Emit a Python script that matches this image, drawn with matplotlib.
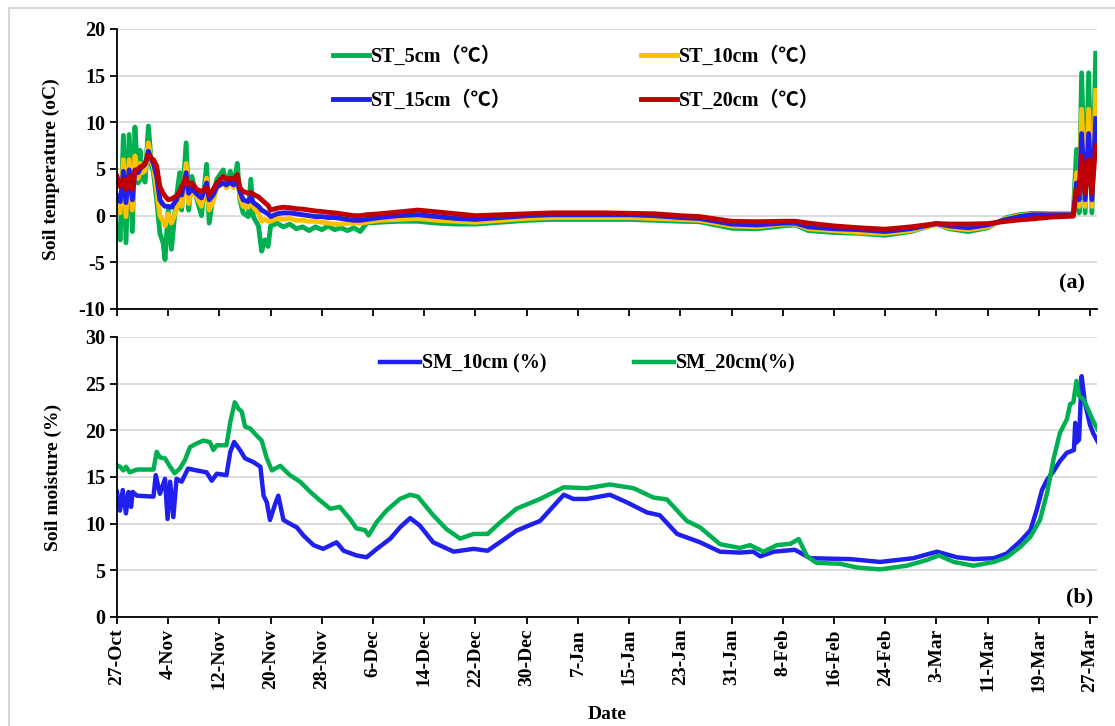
import matplotlib
matplotlib.use('Agg')
import matplotlib.pyplot as plt
from matplotlib.patches import Rectangle

plt.rcParams['font.family'] = ['Liberation Serif', 'Noto Sans CJK SC']
plt.rcParams['font.weight'] = 'bold'
plt.rcParams['axes.unicode_minus'] = False

# --- soil temperature (days since 27-Oct)
t_days = [0.0, 0.5, 1.0, 1.4, 1.9, 2.4, 2.8, 3.3, 3.6, 3.9, 4.4, 4.9, 5.4, 5.7, 6.2, 6.7,
          7.2, 7.5, 8.0, 8.5, 9.3, 9.8, 10.1, 10.8, 11.2, 11.7, 12.5, 13.2, 14.0, 14.4, 15.0,
          15.6, 16.6, 17.1, 17.7, 18.2, 18.8, 19.2, 19.7, 20.5, 20.9, 21.3, 22.1, 22.6, 23.1,
          23.6, 24.0, 25.0, 26.0, 27.0, 28.0, 29.0, 30.0, 31.0, 32.0, 33.0, 34.0, 35.0, 36.0,
          37.0, 38.0, 39.0, 41, 44, 47, 50, 53, 56, 60, 64, 68, 72, 76, 80, 84, 88, 91, 96,
          100, 104, 106, 108, 112, 116, 120, 124, 128, 130, 133, 136, 139, 141, 143, 146,
          149.4, 149.9, 150.3, 150.7, 151.25, 151.8, 152.3, 152.9]
st_5 = [-1.0, -2.6, 8.6, -2.9, 8.7, -1.7, 9.5, 3.5, 7.0, 4.0, 3.6, 9.6, 5.3, 4.6, 1.7, -1.9,
        -2.9, -4.7, 0.6, -3.6, 2.1, 4.6, 0.6, 7.8, 0.6, 4.2, 1.7, 0.0, 5.5, -0.8, 2.1,
        3.9, 4.9, 3.1, 4.75, 3.1, 5.6, 1.7, 0.3, -0.1, 3.9, -0.1, -1.1, -3.8, -2.6,
        -3.3, -1.1, -0.8, -1.2, -0.9, -1.4, -1.2, -1.6, -1.2, -1.5, -1.1, -1.5, -1.3, -1.6,
        -1.3, -1.7, -0.8, -0.7, -0.6, -0.6, -0.8, -0.9, -0.9, -0.7, -0.5, -0.4, -0.4, -0.4, -0.4, -0.5, -0.6, -0.65, -1.35,
        -1.4, -1.1, -1.0, -1.6, -1.8, -1.9, -2.1, -1.7, -0.9, -1.4, -1.7, -1.3, -0.2, 0.1, 0.25, 0.2,
        0.2, 7.1, 0.3, 15.3, 0.3, 15.3, 0.3, 17.4]
st_10 = [0.5, 0.3, 6.0, -0.1, 6.0, 0.6, 6.4, 4.0, 5.6, 4.6, 4.8, 7.8, 5.8, 5.2, 2.8, 0.0,
         -0.6, -1.1, 0.2, -0.8, 0.6, 2.6, 1.0, 5.6, 1.3, 3.0, 1.9, 1.0, 4.0, 0.6, 1.5,
         3.0, 3.6, 3.0, 3.7, 3.0, 4.2, 2.0, 1.0, 0.9, 2.0, 0.9, 0.3, -0.6, -0.4,
         -0.6, -0.6, -0.3, -0.4, -0.3, -0.5, -0.5, -0.6, -0.6, -0.7, -0.8, -0.9, -0.9, -0.8,
         -0.8, -0.8, -0.7, -0.5, -0.4, -0.3, -0.5, -0.6, -0.7, -0.5, -0.3, -0.2, -0.2, -0.2, -0.2, -0.3, -0.4, -0.5, -1.1,
         -1.2, -0.9, -0.9, -1.4, -1.6, -1.8, -1.9, -1.6, -0.9, -1.3, -1.5, -1.2, -0.3, 0.0, 0.15, 0.15,
         0.15, 4.6, 1.0, 11.4, 1.0, 11.4, 1.0, 13.4]
st_15 = [2.1, 1.5, 4.75, 1.4, 4.9, 1.7, 4.9, 4.6, 5.0, 5.2, 5.5, 6.9, 6.0, 5.6, 4.2, 1.7,
         1.2, 1.0, 1.0, 0.9, 1.7, 2.6, 2.2, 4.6, 2.4, 2.9, 2.3, 1.9, 3.5, 1.7, 2.2,
         3.1, 3.5, 3.3, 3.6, 3.3, 3.7, 2.6, 1.7, 1.5, 2.0, 1.4, 1.0, 0.6, 0.4,
         0.2, -0.1, 0.2, 0.3, 0.3, 0.2, 0.1, 0.0, -0.1, -0.1, -0.2, -0.2, -0.3, -0.4,
         -0.5, -0.5, -0.4, -0.2, 0.0, 0.1, -0.1, -0.3, -0.4, -0.2, 0.0, 0.1, 0.1, 0.1, 0.1, 0.0, -0.2, -0.3, -0.9,
         -1.0, -0.8, -0.8, -1.2, -1.4, -1.5, -1.7, -1.4, -0.85, -1.1, -1.3, -1.0, -0.4, -0.1, 0.1, 0.1,
         0.1, 3.5, 1.7, 8.8, 1.7, 8.8, 1.7, 10.4]
st_20 = [4.2, 3.1, 3.9, 2.8, 4.2, 2.8, 4.75, 5.0, 5.2, 5.3, 5.6, 6.5, 6.1, 6.0, 5.3, 3.1,
         2.4, 2.1, 1.7, 1.8, 2.1, 2.6, 3.1, 4.0, 3.3, 3.5, 2.8, 2.6, 3.0, 2.25, 2.8,
         3.5, 4.2, 3.9, 4.0, 3.9, 4.4, 3.0, 2.6, 2.4, 2.5, 2.3, 2.0, 1.7, 1.4,
         1.1, 0.6, 0.8, 0.9, 0.85, 0.75, 0.7, 0.6, 0.5, 0.45, 0.35, 0.3, 0.2, 0.1,
         0.0, 0.0, 0.1, 0.2, 0.4, 0.6, 0.4, 0.2, 0.0, 0.1, 0.2, 0.3, 0.3, 0.3, 0.25, 0.2, 0.0, -0.1, -0.6,
         -0.65, -0.6, -0.6, -0.8, -1.1, -1.3, -1.45, -1.2, -0.85, -0.9, -0.9, -0.85, -0.6, -0.45, -0.35, -0.15,
         -0.05, 2.8, 2.4, 6.4, 2.4, 6.0, 2.4, 7.5]

# --- soil moisture
sm10_days = [0, 0.47, 0.9, 1.4, 1.8, 2.2, 2.45, 3.1, 5.7, 6.05, 6.7, 7.5, 7.9, 8.3, 8.8, 9.3,
             10.1, 11.1, 12.45, 14.0, 14.8, 15.6, 17.1, 17.7, 18.3, 19.2, 20.0, 21.3, 22.4,
             22.9, 23.4, 23.9, 24.7, 25.2, 26.0, 27.0, 28.1, 29.1, 30.7, 32.2, 34.3, 35.4,
             37.4, 39.0, 40.6, 42.7, 44.2, 45.8, 47.3, 49.4, 52.6, 55.7, 57.9, 59.8, 62.4,
             66.1, 69.8, 71.3, 73.4, 77.0, 79.6, 82.8, 84.8, 87.5, 91.1, 94.2, 97.3, 99.4,
             100.5, 102.6, 105.9, 108.3, 114.6, 119.2, 124.4, 128.1, 131.2, 133.8, 137.0,
             139.0, 141.1, 142.7, 143.7, 144.5, 145.3, 146.3, 147.3, 148.4, 149.2, 149.5,
             149.7, 149.9, 150.3, 150.7, 151.2, 152.0, 152.5, 153.2]
sm_10 = [13.4, 11.4, 13.6, 11.1, 13.4, 11.8, 13.4, 13.0, 12.9, 15.2, 13.2, 14.8, 10.5, 14.5, 10.7, 14.8,
         14.5, 15.9, 15.7, 15.5, 14.6, 15.35, 15.2, 17.7, 18.75, 17.9, 17.0, 16.6, 16.1,
         13.0, 12.3, 10.4, 12.1, 13.0, 10.4, 10.0, 9.6, 8.75, 7.7, 7.3, 8.0, 7.1,
         6.6, 6.4, 7.3, 8.4, 9.6, 10.6, 9.8, 8.0, 7.0, 7.3, 7.1, 8.0, 9.25,
         10.3, 13.1, 12.65, 12.65, 13.1, 12.3, 11.2, 10.9, 8.9, 8.0, 7.0, 6.9, 7.0,
         6.5, 7.0, 7.2, 6.3, 6.2, 5.9, 6.3, 7.0, 6.4, 6.2, 6.3,
         6.8, 8.1, 9.3, 11.5, 13.6, 14.7, 15.6, 16.7, 17.6, 17.8, 17.9,
         20.8, 18.7, 19.0, 25.8, 23.0, 20.6, 19.7, 18.8]
sm20_days = [0, 0.47, 1.0, 1.4, 2.0, 3.1, 5.7, 6.2, 6.7, 7.5, 8.3, 9.0, 9.8, 10.6, 11.4, 12.45,
             13.5, 14.5, 15.05, 15.6, 17.1, 17.7, 18.4, 19.0, 19.5, 20.0, 20.8, 21.6, 22.6,
             23.4, 24.2, 25.5, 27.0, 28.6, 30.2, 31.7, 33.3, 34.8, 36.4, 37.4, 38.75, 39.3,
             40.6, 42.1, 44.2, 45.8, 47.0, 49.4, 51.5, 53.6, 55.7, 57.9, 59.8, 62.4, 66.1,
             69.8, 73.4, 77.0, 80.7, 83.8, 85.9, 89.0, 91.1, 94.2, 97.3, 98.9, 101.0, 103.1,
             105.2, 106.5, 107.8, 109.3, 113.0, 115.6, 119.2, 123.4, 126.5, 128.4, 130.7,
             133.8, 137.0, 139.0, 141.1, 142.7, 144.2, 145.3, 146.3, 147.3, 148.4, 148.9,
             149.4, 149.9, 150.3, 151.0, 151.8, 152.5, 153.2]
sm_20 = [16.25, 16.1, 15.7, 16.1, 15.5, 15.8, 15.8, 17.7, 17.1, 17.0, 16.1, 15.4, 15.9, 16.8, 18.2, 18.6,
         18.9, 18.75, 17.9, 18.4, 18.4, 20.9, 23.0, 22.3, 22.0, 20.4, 20.2, 19.6, 18.9,
         17.0, 15.7, 16.2, 15.2, 14.5, 13.4, 12.5, 11.6, 11.8, 10.5, 9.5, 9.3, 8.75,
         10.2, 11.4, 12.65, 13.1, 12.9, 10.9, 9.4, 8.4, 8.9, 8.9, 10.1, 11.6, 12.65,
         13.9, 13.8, 14.2, 13.8, 12.8, 12.6, 10.3, 9.6, 7.8, 7.4, 7.7, 7.0, 7.7,
         7.85, 8.35, 6.5, 5.8, 5.7, 5.3, 5.1, 5.5, 6.1, 6.6, 5.9,
         5.5, 5.9, 6.4, 7.5, 8.6, 10.4, 13.3, 16.9, 19.7, 21.2, 22.8,
         23.0, 25.3, 23.7, 23.3, 22.1, 21.0, 20.1]

tick_days = list(range(0, 153, 8))
tick_labels = ['27-Oct', '4-Nov', '12-Nov', '20-Nov', '28-Nov', '6-Dec', '14-Dec', '22-Dec',
               '30-Dec', '7-Jan', '15-Jan', '23-Jan', '31-Jan', '8-Feb', '16-Feb', '24-Feb',
               '3-Mar', '11-Mar', '19-Mar', '27-Mar']

GREEN, YELLOW, BLUE, RED = '#00B050', '#FFC000', '#1F1FEE', '#C00000'

fig = plt.figure(figsize=(11.15, 7.26), dpi=100)
fig.patches.append(Rectangle((9 / 1115, -0.1), 1.2, 1 - 8 / 726 + 0.1, transform=fig.transFigure,
                             fill=False, edgecolor='#D0D0D0', linewidth=1.2))
ax1 = fig.add_axes([117 / 1115, 1 - 309 / 726, 980 / 1115, 280 / 726])
ax2 = fig.add_axes([117 / 1115, 1 - 617 / 726, 980 / 1115, 280 / 726])

l5, = ax1.plot(t_days, st_5, color=GREEN, lw=3.5, label='ST_5cm（℃）')
l10, = ax1.plot(t_days, st_10, color=YELLOW, lw=3.5, label='ST_10cm（℃）')
l15, = ax1.plot(t_days, st_15, color=BLUE, lw=3.5, label='ST_15cm（℃）')
l20, = ax1.plot(t_days, st_20, color=RED, lw=3.5, label='ST_20cm（℃）')

m10, = ax2.plot(sm10_days, sm_10, color=BLUE, lw=3.2, label='SM_10cm (%)')
m20, = ax2.plot(sm20_days, sm_20, color=GREEN, lw=3.2, label='SM_20cm(%)')

for ax in (ax1, ax2):
    ax.set_xlim(0, 153.1)
    ax.set_xticks(tick_days)
    ax.grid(axis='y', color='#D9D9D9', lw=1.3)
    ax.set_axisbelow(True)
    for s in ('top', 'right'):
        ax.spines[s].set_visible(False)
    for s in ('left', 'bottom'):
        ax.spines[s].set_linewidth(1.3)
    ax.tick_params(direction='out', length=5, width=1.3, labelsize=14.5)
    for lab in ax.get_yticklabels():
        lab.set_fontweight('bold')

ax1.set_ylim(-10, 20)
ax1.set_yticks(range(-10, 21, 5))
ax1.set_xticklabels([])
ax1.set_ylabel('Soil temperature (oC)', fontsize=14, fontweight='bold')
ax1.yaxis.set_label_coords(-0.058, 0.5)
ax1.text(0.975, 0.09, '(a)', transform=ax1.transAxes, ha='center', va='center',
         fontsize=16, fontweight='bold')
ax1.legend([l5, l15, l10, l20], [l5.get_label(), l15.get_label(), l10.get_label(), l20.get_label()],
           ncol=2, frameon=False, loc='upper left', bbox_to_anchor=(0.22, 0.936),
           borderaxespad=0, borderpad=0, handlelength=1.8, handletextpad=0.1,
           columnspacing=6.4, labelspacing=1.15, prop={'weight': 'bold', 'size': 14.5})

ax2.set_ylim(0, 30)
ax2.set_yticks(range(0, 31, 5))
ax2.set_xticklabels(tick_labels, rotation=90, fontsize=14, fontweight='bold')
ax2.set_ylabel('Soil moisture (%)', fontsize=14, fontweight='bold')
ax2.yaxis.set_label_coords(-0.056, 0.5)
ax2.set_xlabel('Date', fontsize=14, fontweight='bold', labelpad=10)
ax2.text(0.982, 0.07, '(b)', transform=ax2.transAxes, ha='center', va='center',
         fontsize=16, fontweight='bold')
ax2.legend(frameon=False, ncol=2, loc='upper left', bbox_to_anchor=(0.268, 0.94),
           borderaxespad=0, borderpad=0, handlelength=2.0, handletextpad=0.1,
           columnspacing=4.35, prop={'weight': 'bold', 'size': 14.5})

fig.savefig('out.png', dpi=100)
